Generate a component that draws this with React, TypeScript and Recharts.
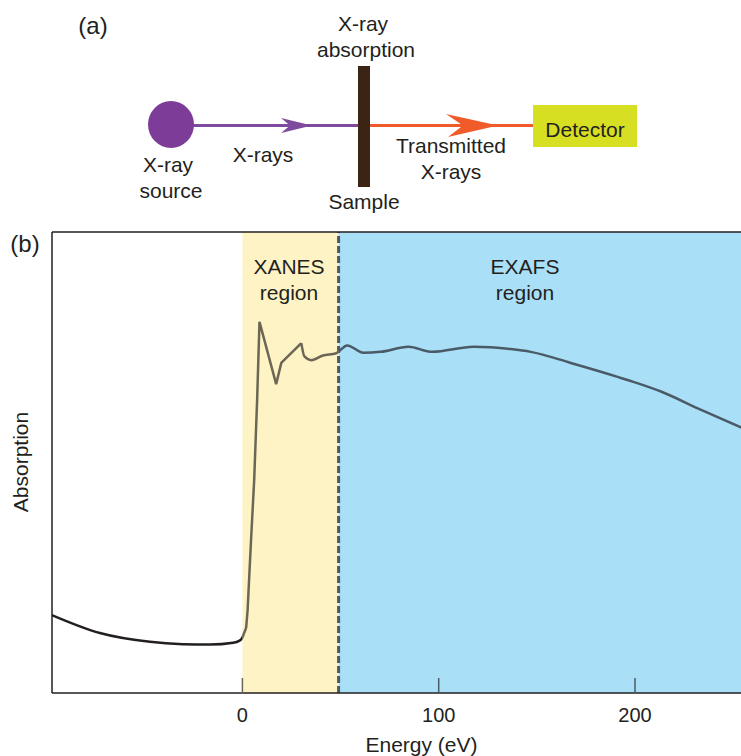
import {
  ComposedChart,
  Line,
  XAxis,
  YAxis,
  ReferenceArea,
  ReferenceLine,
  Label,
} from "recharts";

// energy axis (eV) and region limits
const energyDomain = [-97, 254];
const energyTicks = [0, 100, 200];
const xanesStart = 0;
const xanesEnd = 49;

// absorption (arbitrary units, 0..1 frame height)
const preEdgeEnergy = [-97.1, -72.6, -47.1, -30.3, -16.5, -4.7, -1.7, -0.15, 0.87, 1.9];
const preEdgeAbs = [0.169, 0.13, 0.111, 0.106, 0.105, 0.109, 0.113, 0.119, 0.13, 0.141];

const edgeEnergy = [1.9, 2.65, 3.4, 4.4, 6.0, 7.5, 8.7, 17.2, 19.8, 23.8, 30.0];
const edgeAbs = [0.141, 0.18, 0.245, 0.332, 0.462, 0.636, 0.805, 0.67, 0.716, 0.733, 0.759];

const exafsEnergy = [
  30.0, 31.6, 35.1, 41.0, 47.8, 53.4, 61.6, 70.3, 84.6, 96.7, 117.8, 136.7, 146.9, 167.3,
  196.2, 213.2, 233.7, 254.6,
];
const exafsAbs = [
  0.759, 0.73, 0.722, 0.732, 0.737, 0.754, 0.738, 0.74, 0.751, 0.74, 0.751, 0.746, 0.74,
  0.716, 0.679, 0.654, 0.614, 0.575,
];

const toRows = (es: number[], vs: number[]) => es.map((e, i) => ({ e, a: vs[i] }));
const preRows = toRows(preEdgeEnergy, preEdgeAbs);
const edgeRows = toRows(edgeEnergy, edgeAbs);
const exafsRows = toRows(exafsEnergy, exafsAbs);

const W = 741;
const H = 756;
const plotLeft = 52;
const plotTop = 232;
const axisHeight = 63;
const FONT = "'Liberation Sans', Arial, Helvetica, sans-serif";
const INK = "#231f20";
const OLIVE = "#6b6656";
const SLATE = "#4a5a66";

const frac = (e: number) => (e - energyDomain[0]) / (energyDomain[1] - energyDomain[0]);

// eslint-disable-next-line @typescript-eslint/no-explicit-any
function EnergyTick(props: any) {
  const { x, y, payload } = props;
  const c = payload.value <= xanesEnd ? OLIVE : SLATE;
  return (
    <g>
      <line x1={x} x2={x} y1={y - 15} y2={y} stroke={c} strokeWidth={1.5} />
      <text x={x} y={y + 29} textAnchor="middle" fill={INK} fontSize={20} fontFamily={FONT}>
        {payload.value}
      </text>
    </g>
  );
}

function Schematic() {
  const t = { fill: INK, fontSize: 21, fontFamily: FONT, textAnchor: "middle" as const };
  return (
    <svg width={W} height={H} style={{ position: "absolute", left: 0, top: 0, pointerEvents: "none" }}>
      <text {...t} fontSize={24} x={93} y={34}>(a)</text>
      <text {...t} fontSize={24} x={25} y={252}>(b)</text>

      <line x1={190} x2={360} y1={125.5} y2={125.5} stroke="#7f4a9e" strokeWidth={3} />
      <polygon points="281,118 312,125.5 281,133 290,125.5" fill="#7f4a9e" />
      <ellipse cx={171} cy={124.5} rx={23} ry={23.5} fill="#7d3c97" />

      <line x1={370} x2={537} y1={125.5} y2={125.5} stroke="#f15a29" strokeWidth={3} />
      <polygon points="446,114 498,125.5 448,137 463,125.5" fill="#f15a29" />

      <rect x={358} y={66} width={12} height={121} fill="#3c2415" />
      <rect x={533} y={105} width={104} height={42} fill="#d7df23" />
      <text {...t} x={585} y={137}>Detector</text>

      <text {...t} x={363} y={31}>X-ray</text>
      <text {...t} x={366} y={57}>absorption</text>
      <text {...t} x={364} y={209}>Sample</text>
      <text {...t} x={168} y={172}>X-ray</text>
      <text {...t} x={171} y={198}>source</text>
      <text {...t} x={263} y={162}>X-rays</text>
      <text {...t} x={451} y={153}>Transmitted</text>
      <text {...t} x={451} y={179}>X-rays</text>

      <text {...t} x={289} y={274}>XANES</text>
      <text {...t} x={289} y={300}>region</text>
      <text {...t} x={525} y={274}>EXAFS</text>
      <text {...t} x={525} y={300}>region</text>
    </svg>
  );
}

export default function App() {
  return (
    <div style={{ position: "absolute", left: 0, top: 0, width: W, height: H, background: "#fff" }}>
      <ComposedChart
        width={W}
        height={H}
        margin={{ top: plotTop, right: 0, left: plotLeft, bottom: 0 }}
      >
        <defs>
          <linearGradient
            id="absGrad"
            gradientUnits="userSpaceOnUse"
            x1={plotLeft}
            x2={W}
            y1={0}
            y2={0}
          >
            <stop offset={frac(xanesStart)} stopColor={INK} />
            <stop offset={frac(xanesStart)} stopColor={OLIVE} />
            <stop offset={frac(xanesEnd)} stopColor={OLIVE} />
            <stop offset={frac(xanesEnd)} stopColor={SLATE} />
          </linearGradient>
        </defs>
        <XAxis
          type="number"
          dataKey="e"
          domain={energyDomain}
          ticks={energyTicks}
          allowDataOverflow
          height={axisHeight}
          tickSize={0}
          tickMargin={0}
          tickLine={false}
          tick={<EnergyTick />}
          axisLine={{ stroke: INK, strokeWidth: 1.5 }}
        >
          <Label
            value="Energy (eV)"
            position="insideBottom"
            offset={4}
            dx={25}
            fill={INK}
            fontSize={21}
            fontFamily={FONT}
          />
        </XAxis>
        <YAxis type="number" domain={[0, 1]} hide allowDataOverflow />
        <ReferenceArea x1={xanesStart} x2={xanesEnd} y1={0} y2={1} fill="#fef3c5" fillOpacity={1} stroke="none" />
        <ReferenceArea x1={xanesEnd} x2={energyDomain[1]} y1={0} y2={1} fill="#a9dff7" fillOpacity={1} stroke="none" />
        <ReferenceLine x={xanesEnd} stroke={SLATE} strokeWidth={3} strokeDasharray="7 3" />
        <ReferenceLine x={energyDomain[0]} stroke={INK} strokeWidth={1.5} />
        <ReferenceLine y={1} stroke={INK} strokeWidth={1.5} />
        <Line data={preRows} dataKey="a" type="monotone" stroke="url(#absGrad)" strokeWidth={2.5} dot={false} isAnimationActive={false} />
        <Line data={edgeRows} dataKey="a" type="linear" stroke="url(#absGrad)" strokeWidth={2.5} dot={false} isAnimationActive={false} />
        <Line data={exafsRows} dataKey="a" type="monotone" stroke="url(#absGrad)" strokeWidth={2.5} dot={false} isAnimationActive={false} />
        <text
          x={20}
          y={462}
          transform="rotate(-90, 20, 462)"
          textAnchor="middle"
          dominantBaseline="central"
          fill={INK}
          fontSize={21}
          fontFamily={FONT}
        >
          Absorption
        </text>
      </ComposedChart>
      <Schematic />
    </div>
  );
}
